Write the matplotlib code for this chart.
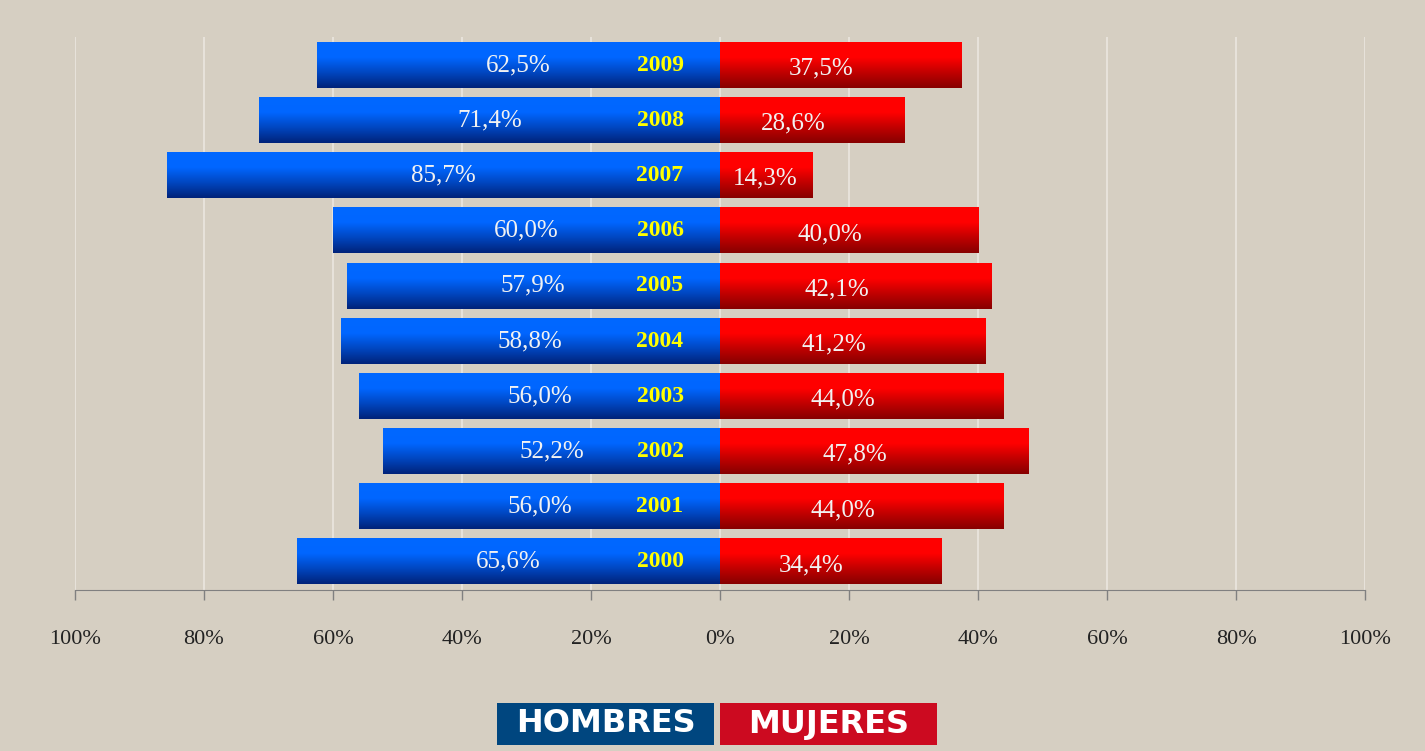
import numpy as np
import matplotlib
matplotlib.use("Agg")
import matplotlib.pyplot as plt
from matplotlib.colors import LinearSegmentedColormap
from matplotlib.patches import Rectangle

# datos
years = ["2000", "2001", "2002", "2003", "2004", "2005", "2006", "2007", "2008", "2009"]
hombres = [65.6, 56.0, 52.2, 56.0, 58.8, 57.9, 60.0, 85.7, 71.4, 62.5]
mujeres = [34.4, 44.0, 47.8, 44.0, 41.2, 42.1, 40.0, 14.3, 28.6, 37.5]
ticks = [-100, -80, -60, -40, -20, 0, 20, 40, 60, 80, 100]
tick_labels = ["100%", "80%", "60%", "40%", "20%", "0%", "20%", "40%", "60%", "80%", "100%"]
legend_labels = ["HOMBRES", "MUJERES"]

BG = "#d6cfc2"
SERIF = "Liberation Serif"

def fmt(v):
    return f"{v:.1f}%".replace(".", ",")

fig = plt.figure(figsize=(14.25, 7.51), dpi=100, facecolor=BG)
ax = fig.add_axes([75 / 1425, 161 / 751, 1290 / 1425, 553 / 751])
ax.set_facecolor(BG)

y = np.arange(len(years))
h = 0.82
cm_blue = LinearSegmentedColormap.from_list("b", ["#00237a", "#0046c0", "#0066ff", "#0068ff"])
cm_red = LinearSegmentedColormap.from_list("r", ["#870000", "#c00000", "#ff0000", "#ff0000"])
grad = np.linspace(0, 1, 100).reshape(-1, 1)

bars_h = ax.barh(y, [-v for v in hombres], height=h, color="none")
bars_m = ax.barh(y, mujeres, height=h, color="none")
for bars, cmap in [(bars_h, cm_blue), (bars_m, cm_red)]:
    for b in bars:
        x0, y0 = b.get_x(), b.get_y()
        x1, y1 = x0 + b.get_width(), y0 + b.get_height()
        ax.imshow(grad, extent=[min(x0, x1), max(x0, x1), y0, y1], origin="lower",
                  cmap=cmap, aspect="auto", zorder=2, interpolation="bilinear")

for i in range(len(years)):
    ax.text(-hombres[i] / 2, y[i], fmt(hombres[i]), ha="center", va="center",
            color="#f2f2f2", fontsize=18, family=SERIF, zorder=4)
    xm = max(mujeres[i] / 2 - 3, 7)
    ax.text(xm, y[i] - 0.06, fmt(mujeres[i]), ha="center", va="center",
            color="#f2f2f2", fontsize=18, family=SERIF, zorder=4)
    ax.text(-9.3, y[i], years[i], ha="center", va="center", color="#ffff00",
            fontsize=17, fontweight="bold", family=SERIF, zorder=4)

ax.set_xlim(-100, 100)
ax.set_ylim(-0.51, 9.51)
ax.set_xticks(ticks)
ax.set_xticklabels(tick_labels, family=SERIF, fontsize=16, color="#222222")
ax.set_yticks([])
ax.tick_params(axis="x", direction="out", length=7, width=1, color="#808080", pad=22)
ax.grid(axis="x", color="#ebe7df", linewidth=1.2, zorder=0)
ax.set_axisbelow(True)
for s in ["top", "right", "left"]:
    ax.spines[s].set_visible(False)
ax.spines["bottom"].set_color("#808080")

# leyenda
legend_colors = ["#00467f", "#cc0a20"]
boxes = [(497, 217), (720, 217)]
for (x0, w), lab, c in zip(boxes, legend_labels, legend_colors):
    fig.patches.append(Rectangle((x0 / 1425, 6 / 751), w / 1425, 42 / 751,
                                 transform=fig.transFigure, facecolor=c, edgecolor="none"))
    fig.text((x0 + w / 2) / 1425, 27 / 751, lab, ha="center", va="center",
             color="white", fontsize=23, fontweight="bold", family="DejaVu Sans")

fig.savefig("out.png", dpi=100, facecolor=BG)
